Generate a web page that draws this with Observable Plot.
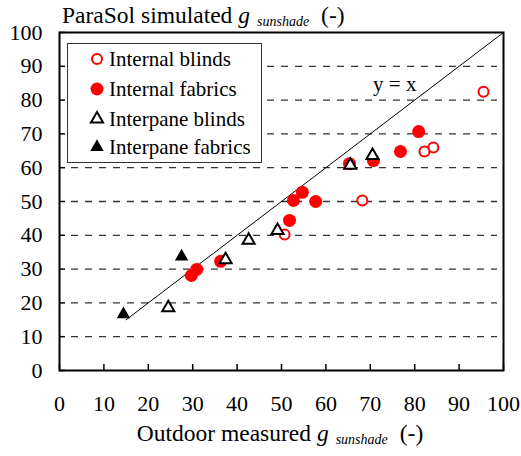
<!DOCTYPE html>
<html><head><meta charset="utf-8">
<script src="https://cdn.jsdelivr.net/npm/d3@7"></script>
<script src="https://cdn.jsdelivr.net/npm/@observablehq/plot@0.6"></script>
<style>body{margin:0;background:#fff} svg text{font-family:'Liberation Serif','Times New Roman',serif !important}</style>
</head><body><div id="chart"></div>
<script>
// Data
const internalBlindsX = [95.5, 84.2, 82.2, 68.2, 50.7];
const internalBlindsY = [82.5, 66.0, 64.8, 50.3, 40.2];
const internalFabricsX = [80.9, 76.8, 70.7, 65.3, 57.7, 54.7, 52.7, 51.8, 36.3, 30.9, 29.7];
const internalFabricsY = [70.7, 64.8, 62.1, 61.2, 50.0, 52.7, 50.3, 44.4, 32.3, 29.9, 28.1];
const interpaneBlindsX = [24.5, 37.4, 42.6, 49.1, 65.5, 70.5];
const interpaneBlindsY = [18.6, 32.8, 38.5, 41.4, 60.7, 63.6];
const interpaneFabricsX = [14.4, 27.5];
const interpaneFabricsY = [16.6, 33.7];
const diagonalXY = [15, 100];
const tickValues = [0, 10, 20, 30, 40, 50, 60, 70, 80, 90, 100];
const gridValues = [10, 20, 30, 40, 50, 60, 70, 80, 90];
const seriesNames = ["Internal blinds", "Internal fabrics", "Interpane blinds", "Interpane fabrics"];

const zip = (xs, ys) => xs.map((x, i) => ({x, y: ys[i]}));
const font = "'Liberation Serif', 'Times New Roman', serif";

const plot = Plot.plot({
  width: 521, height: 456,
  marginLeft: 59, marginRight: 18, marginTop: 32, marginBottom: 86,
  style: `font-family: ${font}; font-size: 22px; color: black; background: white;`,
  x: {domain: [0, 100], label: null},
  y: {domain: [0, 100], label: null},
  marks: [
    Plot.ruleY(gridValues, {stroke: "#333", strokeWidth: 1.3, strokeDasharray: "7,7", insetLeft: 12, insetRight: 6}),
    Plot.line(diagonalXY.map(v => ({x: v, y: v})), {x: "x", y: "y", stroke: "black", strokeWidth: 1}),
    Plot.text(["y = x"], {x: 75.5, y: 84.6, text: d => d, fontSize: 21, textAnchor: "middle"}),
    Plot.axisX(tickValues, {tickSize: 6, dy: -6, text: null, label: null, strokeWidth: 1.5}),
    Plot.axisX(tickValues, {tickSize: 0, tickPadding: 25, label: null}),
    Plot.axisY(tickValues, {tickSize: 6, dx: 6, text: null, label: null, strokeWidth: 1.5}),
    Plot.axisY(tickValues, {tickSize: 0, tickPadding: 17, label: null}),
    Plot.frame({stroke: "black", strokeWidth: 2}),
    Plot.dot(zip(internalBlindsX, internalBlindsY), {x: "x", y: "y", r: 5, stroke: "red", strokeWidth: 2, fill: "white"}),
    Plot.dot(zip(internalFabricsX, internalFabricsY), {x: "x", y: "y", r: 6.5, fill: "red"}),
    Plot.dot(zip(interpaneBlindsX, interpaneBlindsY), {x: "x", y: "y", r: 4.5, symbol: "triangle", stroke: "black", strokeWidth: 2, fill: "white"}),
    Plot.dot(zip(interpaneFabricsX, interpaneFabricsY), {x: "x", y: "y", r: 5, symbol: "triangle", fill: "black"})
  ]
});
document.getElementById("chart").append(plot);

const svg = d3.select(plot);
// Axis titles with italic subscript
function title(x, y, anchor, before) {
  const t = svg.append("text").attr("x", x).attr("y", y).attr("text-anchor", anchor)
    .attr("font-family", font).attr("font-size", 23.5).attr("fill", "black");
  t.append("tspan").text(before + " ");
  t.append("tspan").attr("font-style", "italic").text("g");
  t.append("tspan").attr("font-style", "italic").attr("font-size", 14).attr("dx", 7).attr("dy", 3).text("sunshade");
  t.append("tspan").attr("dx", 12).attr("dy", -3).text("(-)");
}
title(62, 23, "start", "ParaSol simulated");
title(280, 441, "middle", "Outdoor measured");

// Legend
const lg = svg.append("g");
lg.append("rect").attr("x", 67.5).attr("y", 43.5).attr("width", 194).attr("height", 119)
  .attr("fill", "white").attr("stroke", "#333").attr("stroke-width", 1);
const rows = [59, 89, 119, 147];
const sym = d3.symbol().type(d3.symbolTriangle).size(Math.PI * 4.5 * 4.5);
seriesNames.forEach((name, i) => {
  const cy = rows[i];
  const g = lg.append("g").attr("transform", `translate(97,${cy})`);
  if (i === 0) g.append("circle").attr("r", 5).attr("fill", "white").attr("stroke", "red").attr("stroke-width", 2);
  if (i === 1) g.append("circle").attr("r", 6.5).attr("fill", "red");
  if (i === 2) g.append("path").attr("d", sym()).attr("fill", "white").attr("stroke", "black").attr("stroke-width", 2);
  if (i === 3) g.append("path").attr("d", d3.symbol().type(d3.symbolTriangle).size(Math.PI * 25)()).attr("fill", "black");
  lg.append("text").attr("x", 109).attr("y", cy).attr("dy", "0.35em").attr("text-anchor", "start")
    .attr("font-family", font).attr("font-size", 21).attr("fill", "black").text(name);
});
</script>
</body></html>
